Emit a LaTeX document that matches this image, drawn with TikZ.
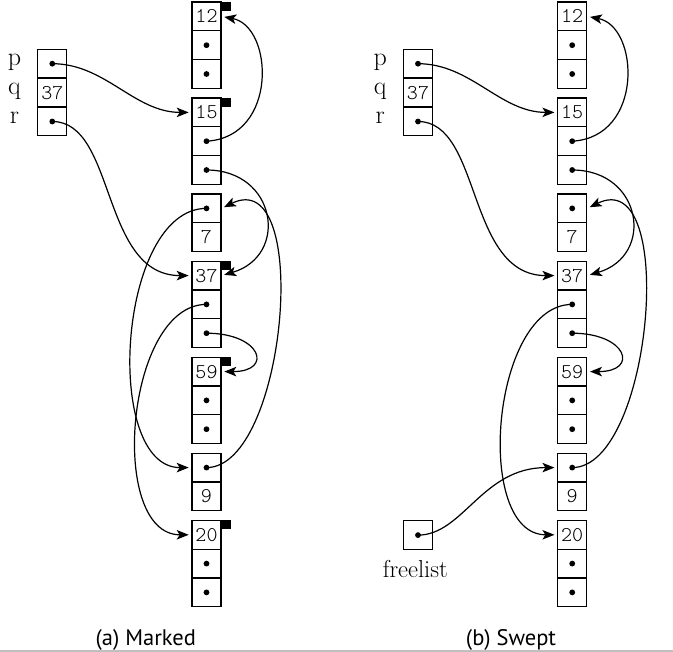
\documentclass[tikz,border=0pt]{standalone}
\usepackage{fontspec}
\newfontfamily\celltt{lmmonolt10-regular}[Extension=.otf]
\newfontfamily\capfont{PT Sans}
\usetikzlibrary{arrows.meta}
\begin{document}
\begin{tikzpicture}[x=1pt,y=-1pt,
  cell/.style={draw,line width=1.2pt,minimum width=29pt,minimum height=28.8pt,inner sep=0pt,font=\celltt\fontsize{21}{21}\selectfont},
  ptdot/.style={circle,fill,inner sep=0pt,minimum size=5.8pt},
  markbox/.style={fill,inner sep=0pt,minimum size=9pt,anchor=north west},
  lbl/.style={font=\fontsize{26}{26}\selectfont,anchor=mid},
  captxt/.style={font=\capfont\fontsize{22.5}{22.5}\selectfont,anchor=base},
  ptr/.style={line width=1.2pt,-{Stealth[length=12pt,width=9.5pt,inset=3pt]},shorten >=2.7pt}]
\path[use as bounding box] (0,0) rectangle (673,652);
\foreach \pn/\sx in {a/0,b/365.7}{
\begin{scope}[xshift=\sx pt]
  \foreach \nm/\ty in {12/2,15/98,37/261.2,59/357.2,20/520.4}{
    \node[cell] (\pn\nm-1) at (206.5,\ty+14.4) {\nm};
    \node[cell] (\pn\nm-2) at (206.5,\ty+43.2) {};
    \node[cell] (\pn\nm-3) at (206.5,\ty+72) {};
    \node[ptdot] (\pn\nm d2) at (\pn\nm-2.center) {};
    \node[ptdot] (\pn\nm d3) at (\pn\nm-3.center) {};
  }
  \foreach \nm/\ty in {7/194,9/453.2}{
    \node[cell] (\pn\nm-1) at (206.5,\ty+14.4) {};
    \node[cell] (\pn\nm-2) at (206.5,\ty+43.2) {\nm};
    \node[ptdot] (\pn\nm d1) at (\pn\nm-1.center) {};
  }
  \node[cell] (\pn P1) at (52.3,63.7) {};
  \node[cell] (\pn P2) at (52.3,92.6) {37};
  \node[cell] (\pn P3) at (52.3,121.5) {};
  \node[ptdot] (\pn Pd1) at (\pn P1.center) {};
  \node[ptdot] (\pn Pd3) at (\pn P3.center) {};
  \node[lbl] (\pn Lp) at (14.5,63.7) {p};
  \node[lbl] (\pn Lq) at (14.5,92.6) {q};
  \node[lbl] (\pn Lr) at (14.5,121.5) {r};
  % common pointers
  \draw[ptr] (\pn Pd1.center) .. controls +(53,0) and +(-57,0) .. (\pn15-1.west);
  \draw[ptr] (\pn Pd3.center) .. controls +(64,0) and +(-91,0) .. (\pn37-1.west);
  \draw[ptr] (\pn15d2.center) .. controls +(72,-4) and +(52,10) .. (\pn12-1.east);
  \draw[ptr] (\pn15d3.center) .. controls +(70,0) and +(68,-20) .. (\pn37-1.east);
  \draw[ptr] (\pn37d2.center) .. controls +(-81,0) and +(-84,0) .. (\pn20-1.west);
  \draw[ptr] (\pn37d3.center) .. controls +(55,0) and +(52,0) .. (\pn59-1.east);
  \draw[ptr] (\pn9d1.center) .. controls +(80,0) and +(91,-45) .. (\pn7-1.east);
\end{scope}}
% panel (a) only
\foreach \nm in {12,15,37,59,20}{
  \node[markbox] (mk\nm) at (a\nm-1.north east) {};
}
\draw[ptr] (a7d1.center) .. controls +(-89,0) and +(-89,0) .. (a9-1.west);
% panel (b) only
\node[cell] (bF) at (418,535.1) {};
\node[ptdot] (bFd) at (bF.center) {};
\node[font=\fontsize{24.5}{24.5}\selectfont,anchor=base] (bFl) at (415.3,577.7) {freelist};
\draw[ptr] (bFd.center) .. controls +(45,0) and +(-75,0) .. (b9-1.west);
% captions
\node[captxt] (capa) at (145.8,645.5) {(a) Marked};
\node[captxt] (capb) at (511,645.5) {(b) Swept};
\draw[black!25,line width=1.5pt] (0,650.8) -- (673,650.8);
\end{tikzpicture}
\end{document}
